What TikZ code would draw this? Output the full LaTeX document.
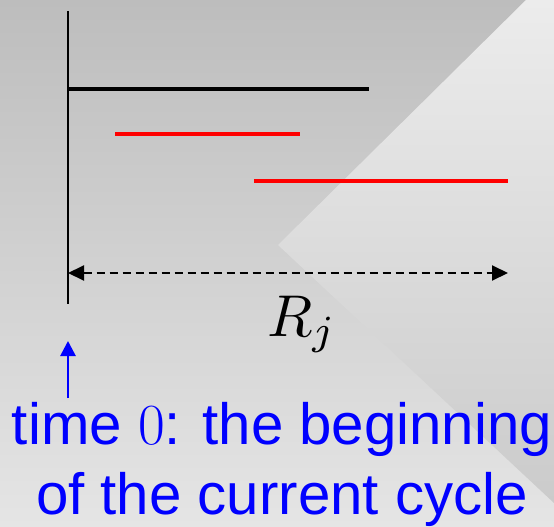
\documentclass[tikz,border=0pt]{standalone}
\usepackage{fontspec}
\setmainfont{Liberation Sans}
\newfontfamily\lmrfont{Latin Modern Roman}
\usetikzlibrary{arrows.meta}
\definecolor{bgtop}{HTML}{BDBDBD}
\definecolor{bgbot}{HTML}{E5E5E5}
\definecolor{wtop}{HTML}{ECECEC}
\definecolor{wbot}{HTML}{CBCBCB}
\tikzset{
  axisline/.style={line width=2.5pt,black},
  jobbar/.style={line width=4.5pt},
  span/.style={line width=2pt,dash pattern=on 8pt off 5pt,{Triangle[length=16pt,width=15pt]}-{Triangle[length=16pt,width=15pt]}},
  pointer/.style={line width=2.7pt,blue,-{Triangle[length=15pt,width=15pt]}},
  caption/.style={text=blue,font=\fontsize{58.2}{70}\selectfont,inner sep=0pt,anchor=base},
}
\begin{document}
\begin{tikzpicture}[x=1pt,y=-1pt]
\useasboundingbox (0,0) rectangle (554,527);
% background
\shade[top color=bgtop,bottom color=bgbot] (0,0) rectangle (554,527);
\shade[top color=wtop,bottom color=wbot] (278,245) -- (526,0) -- (554,0) -- (554,503) -- cycle;
% coordinates
\coordinate (vtop) at (68,11);
\coordinate (vbot) at (68,304);
\coordinate (h0) at (68,89);
\coordinate (h1) at (369,89);
\coordinate (r1a) at (115,134);
\coordinate (r1b) at (300,134);
\coordinate (r2a) at (254,181);
\coordinate (r2b) at (508,181);
\coordinate (da) at (68,273);
\coordinate (db) at (508,273);
\coordinate (ptail) at (68,398);
\coordinate (ptip) at (68,341);
% drawing
\draw[axisline] (vtop) -- (vbot);
\draw[jobbar,black] (h0) -- (h1);
\draw[jobbar,red] (r1a) -- (r1b);
\draw[jobbar,red] (r2a) -- (r2b);
\draw[span] (da) -- (db);
\node[inner sep=0pt,anchor=base,scale=5.9,font=\fontsize{10}{12}\selectfont] (rj) at (302,336) {$R_j$};
\node[caption] (cap1) at (282,444) {time {\lmrfont 0}: the beginning};
\node[caption] (cap2) at (282,514) {of the current cycle};
\draw[pointer] (ptail) -- (ptip);
\end{tikzpicture}
\end{document}
